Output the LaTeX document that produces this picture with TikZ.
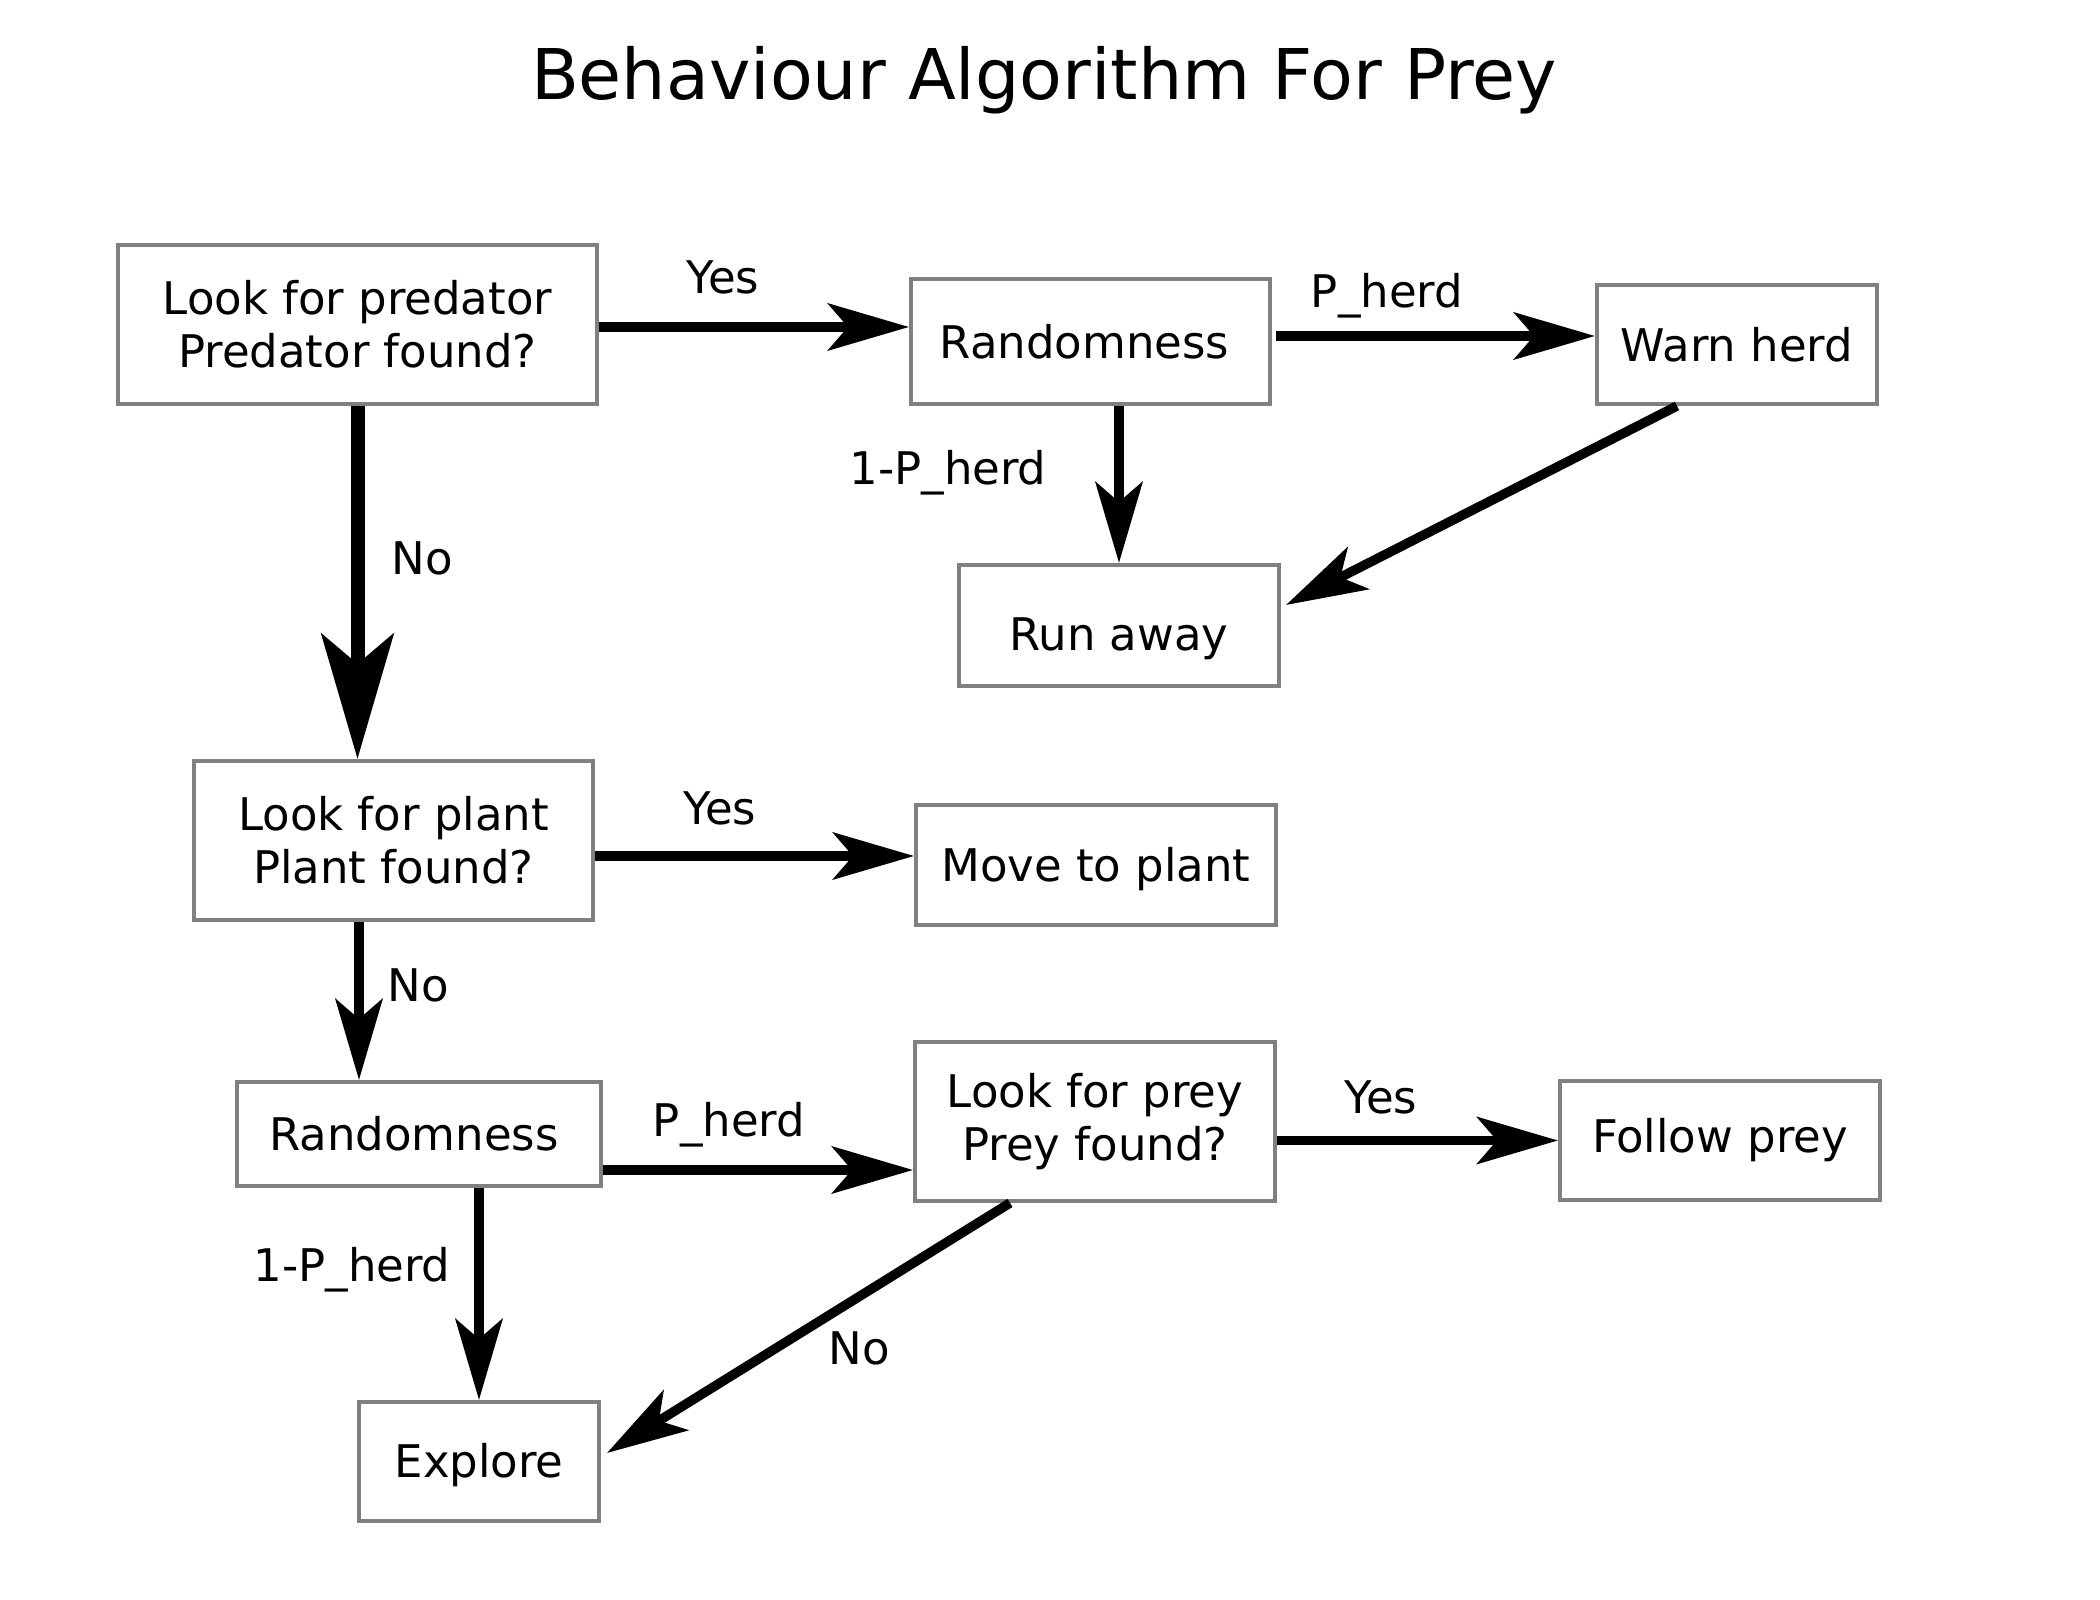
\documentclass[tikz,border=0pt]{standalone}
\usepackage{fontspec}
\setmainfont{DejaVu Sans}
\usepackage{tikz}
\usetikzlibrary{calc,arrows.meta}

\definecolor{boxgray}{HTML}{808080}
\tikzset{
    box/.style={draw=boxgray, line width=0.04cm, inner sep=0pt, align=center,
        font=\fontsize{12.8pt}{15.2pt}\selectfont},
    lbl/.style={anchor=base, inner sep=0pt, font=\fontsize{12.8pt}{15.2pt}\selectfont},
    arr/.style={line width=0.095cm, -{Stealth[length=0.81cm, width=0.47cm, inset=0.2cm]}},
    bigarr/.style={line width=0.14cm, -{Stealth[length=1.25cm, width=0.72cm, inset=0.3cm]}},
}

\begin{document}
\begin{tikzpicture}
        \useasboundingbox (0,0) rectangle (21,-16);

        \node (title) [anchor=base, font=\fontsize{19.9pt}{23pt}\selectfont] at (10.44,-1.00) {Behaviour Algorithm For Prey};

        \node (pred) [box, minimum width=4.79cm, minimum height=1.59cm] at (3.575,-3.245) {Look for predator\\Predator found?};
        \node (rand1) [box, minimum width=3.59cm, minimum height=1.25cm] at (10.905,-3.415) {\hspace*{-0.12cm}Randomness};
        \node (warn) [box, minimum width=2.80cm, minimum height=1.19cm] at (17.37,-3.445) {Warn herd};
        \node (run) [box, minimum width=3.20cm, minimum height=1.21cm] at (11.19,-6.255) {\raisebox{-0.13cm}[\height][\depth]{Run away}};

        \node (plant) [box, minimum width=3.99cm, minimum height=1.59cm] at (3.935,-8.405) {Look for plant\\Plant found?};
        \node (move) [box, minimum width=3.60cm, minimum height=1.20cm] at (10.96,-8.65) {\raisebox{-0.04cm}[\height][\depth]{Move to plant}};

        \node (rand2) [box, minimum width=3.64cm, minimum height=1.04cm] at (4.19,-11.34) {\hspace*{-0.1cm}Randomness};
        \node (prey) [box, minimum width=3.60cm, minimum height=1.59cm] at (10.95,-11.215) {Look for prey\\Prey found?};
        \node (follow) [box, minimum width=3.20cm, minimum height=1.19cm] at (17.20,-11.405) {Follow prey};
        \node (explore) [box, minimum width=2.40cm, minimum height=1.19cm] at (4.79,-14.615) {\raisebox{-0.04cm}[\height][\depth]{Explore}};

        \draw[arr] ($(pred.east)+(0,-0.025)$) -- ($(rand1.west |- pred.east)+(0,-0.025)$);
        \draw[arr] ($(rand1.east)+(0.04,0.055)$) -- ($(warn.west |- rand1.east)+(0,0.055)$);
        \draw[arr] (run.north |- rand1.south) -- (run.north);
        \draw[arr] ($(warn.south)+(-0.6,0)$) -- ($(run.east)+(0.05,0.205)$);
        \draw[bigarr] (pred.south) -- (pred.south |- plant.north);

        \draw[arr] ($(plant.east)+(0,-0.155)$) -- ($(move.west |- plant.east)+(0,-0.155)$);
        \draw[arr] ($(plant.south)+(-0.345,0)$) -- ($(rand2.north)+(-0.6,0)$);

        \draw[arr] ($(rand2.east)+(0,-0.36)$) -- ($(prey.west |- rand2.east)+(0,-0.36)$);
        \draw[arr] (explore.north |- rand2.south) -- (explore.north);
        \draw[arr] (prey.east |- follow.west) -- (follow.west);
        \draw[arr] ($(prey.south)+(-0.85,0)$) -- ($(explore.east)+(0.06,0.085)$);

        \node (yes1) [lbl] at (7.23,-2.94) {Yes};
        \node (pherd1) [lbl] at (13.87,-3.08) {P\_herd};
        \node (notph1) [lbl] at (9.48,-4.85) {1-P\_herd};
        \node (no1) [lbl] at (4.22,-5.75) {No};
        \node (yes2) [lbl] at (7.20,-8.25) {Yes};
        \node (no2) [lbl] at (4.18,-10.02) {No};
        \node (pherd2) [lbl] at (7.29,-11.37) {P\_herd};
        \node (notph2) [lbl] at (3.52,-12.82) {1-P\_herd};
        \node (yes3) [lbl] at (13.81,-11.14) {Yes};
        \node (no3) [lbl] at (8.59,-13.65) {No};
\end{tikzpicture}
\end{document}
